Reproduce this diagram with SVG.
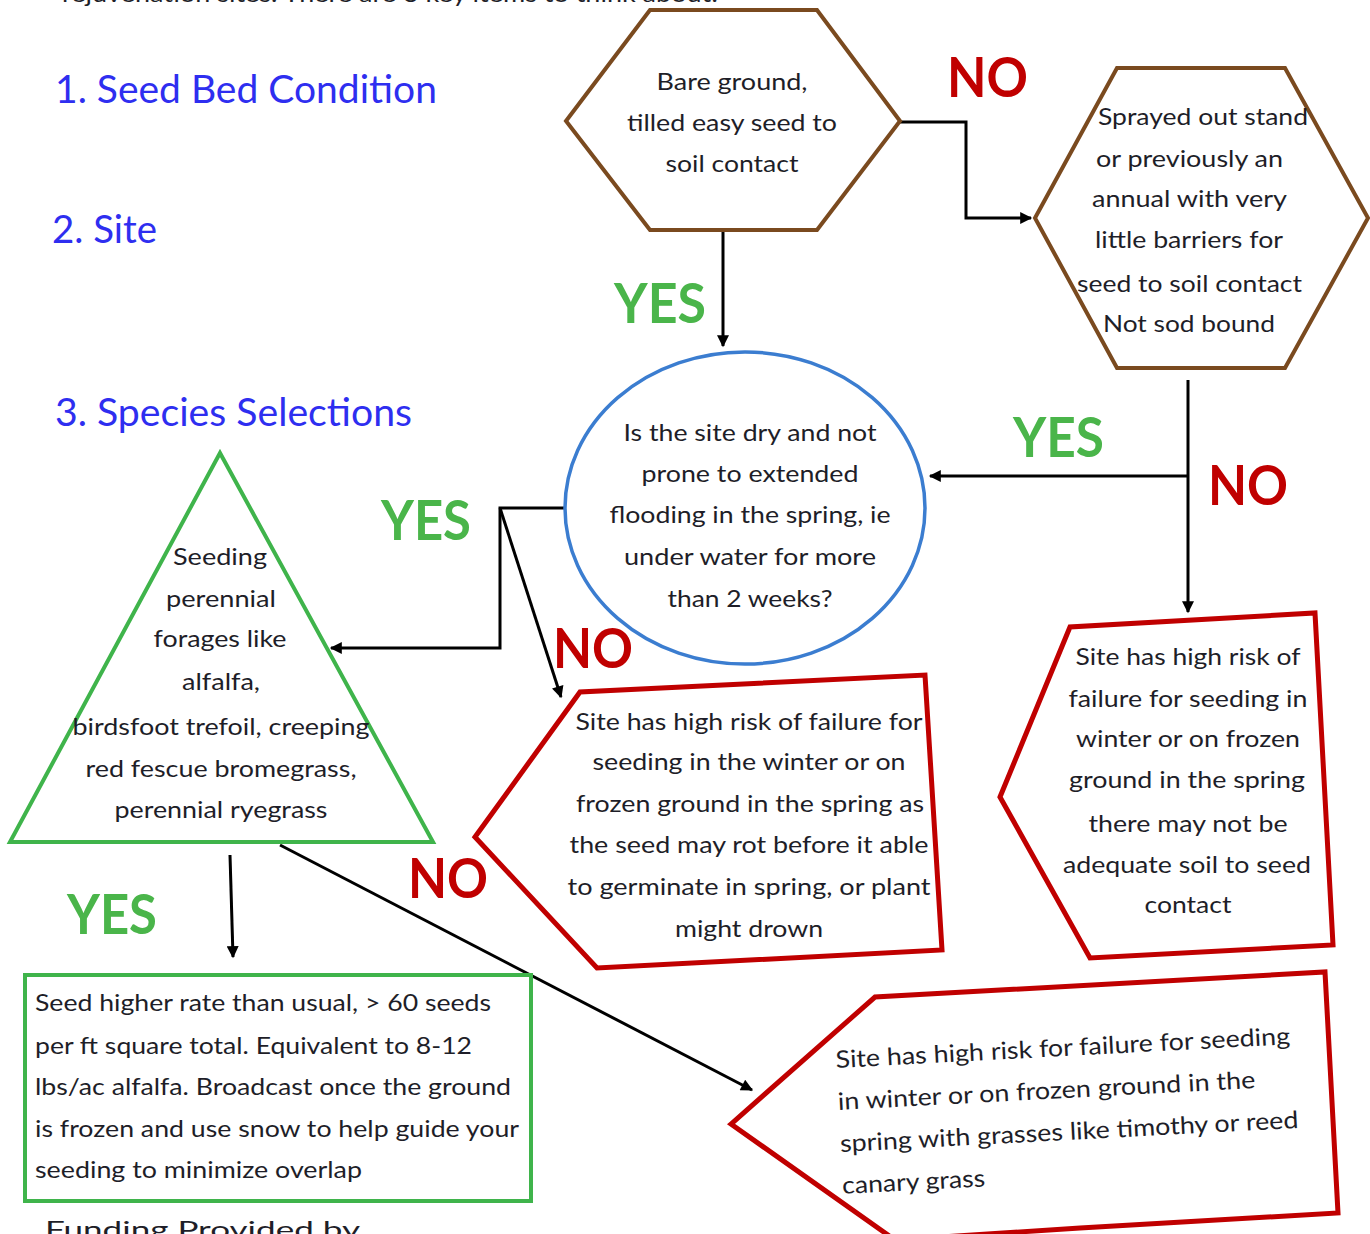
<svg xmlns="http://www.w3.org/2000/svg" width="1370" height="1234" viewBox="0 0 1370 1234">
<defs>
<style>
.t{font-family:Lato,"Open Sans","Liberation Sans",sans-serif;font-size:24px;fill:#1e1e28;}
.c{text-anchor:middle;}
.h{font-family:Lato,"Open Sans","Liberation Sans",sans-serif;font-size:38px;fill:#2e2ef0;}
.yes{font-family:Lato,"Open Sans","Liberation Sans",sans-serif;font-size:56px;font-weight:bold;fill:#4ab54a;}
.no{font-family:Lato,"Open Sans","Liberation Sans",sans-serif;font-size:56px;font-weight:bold;fill:#c00000;}
.hex{fill:#fff;stroke:#7a4a1f;stroke-width:4;}
.red{fill:#fff;stroke:#c00000;stroke-width:5;}
.grn{fill:#fff;stroke:#3fb44b;stroke-width:4;}
.blu{fill:#fff;stroke:#3b7dd0;stroke-width:3.5;}
.ln{fill:none;stroke:#000;stroke-width:3;}
</style>
<marker id="ah" viewBox="0 0 10 10" refX="9" refY="5" markerWidth="14" markerHeight="12" markerUnits="userSpaceOnUse" orient="auto">
<path d="M0,0 L10,5 L0,10 z" fill="#000"/>
</marker>
</defs>
<rect width="1370" height="1234" fill="#fff"/>

<text class="t" x="62" y="2" textLength="656" lengthAdjust="spacingAndGlyphs">rejuvenation sites. There are 3 key items to think about:</text>
<text class="t" x="45" y="1238" font-size="28" textLength="315" lengthAdjust="spacingAndGlyphs">Funding Provided by</text>

<g id="headings">
<text class="h" x="55" y="103" textLength="382" lengthAdjust="spacingAndGlyphs">1. Seed Bed Condition</text>
<text class="h" x="52" y="243" textLength="105" lengthAdjust="spacingAndGlyphs">2. Site</text>
<text class="h" x="55" y="426" textLength="357" lengthAdjust="spacingAndGlyphs">3. Species Selections</text>
</g>

<g id="connectors">
<polyline class="ln" points="900,122 966,122 966,218 1031,218" marker-end="url(#ah)"/>
<line class="ln" x1="723" y1="231" x2="723" y2="346" marker-end="url(#ah)"/>
<line class="ln" x1="1188" y1="380" x2="1188" y2="612" marker-end="url(#ah)"/>
<line class="ln" x1="1188" y1="476" x2="930" y2="476" marker-end="url(#ah)"/>
<polyline class="ln" points="566,508 500,508 500,648 331,648" marker-end="url(#ah)"/>
<line class="ln" x1="500" y1="508" x2="561" y2="697" marker-end="url(#ah)"/>
<line class="ln" x1="230" y1="855" x2="233" y2="957" marker-end="url(#ah)"/>
<line class="ln" x1="280" y1="845" x2="752" y2="1090" marker-end="url(#ah)"/>
</g>

<g id="labels">
<text class="no" x="947" y="97" textLength="81" lengthAdjust="spacingAndGlyphs">NO</text>
<text class="yes" x="614" y="323" textLength="92" lengthAdjust="spacingAndGlyphs">YES</text>
<text class="yes" x="1013" y="457" textLength="91" lengthAdjust="spacingAndGlyphs">YES</text>
<text class="no" x="1208" y="505" textLength="80" lengthAdjust="spacingAndGlyphs">NO</text>
<text class="yes" x="381" y="540" textLength="90" lengthAdjust="spacingAndGlyphs">YES</text>
<text class="no" x="553" y="668" textLength="80" lengthAdjust="spacingAndGlyphs">NO</text>
<text class="no" x="408" y="898" textLength="80" lengthAdjust="spacingAndGlyphs">NO</text>
<text class="yes" x="67" y="934" textLength="90" lengthAdjust="spacingAndGlyphs">YES</text>
</g>

<g id="bare-ground">
<polygon class="hex" points="566,121 650,10 817,10 900,121 817,230 650,230"/>
<text class="t c" x="732" y="90" textLength="151" lengthAdjust="spacingAndGlyphs">Bare ground,</text>
<text class="t c" x="732" y="131" textLength="210" lengthAdjust="spacingAndGlyphs">tilled easy seed to</text>
<text class="t c" x="732" y="172" textLength="133" lengthAdjust="spacingAndGlyphs">soil contact</text>
</g>

<g id="sprayed-out">
<polygon class="hex" points="1035,218 1117,68 1285,68 1368,218 1285,368 1117,368"/>
<text class="t" x="1098" y="125" textLength="210" lengthAdjust="spacingAndGlyphs">Sprayed out stand</text>
<text class="t" x="1096" y="167" textLength="187" lengthAdjust="spacingAndGlyphs">or previously an</text>
<text class="t" x="1092" y="207" textLength="195" lengthAdjust="spacingAndGlyphs">annual with very</text>
<text class="t" x="1095" y="248" textLength="188" lengthAdjust="spacingAndGlyphs">little barriers for</text>
<text class="t" x="1077" y="292" textLength="225" lengthAdjust="spacingAndGlyphs">seed to soil contact</text>
<text class="t" x="1103" y="332" textLength="172" lengthAdjust="spacingAndGlyphs">Not sod bound</text>
</g>

<g id="dry-site">
<ellipse class="blu" cx="745" cy="508" rx="180" ry="156"/>
<text class="t c" x="750" y="441" textLength="253" lengthAdjust="spacingAndGlyphs">Is the site dry and not</text>
<text class="t c" x="750" y="482" textLength="217" lengthAdjust="spacingAndGlyphs">prone to extended</text>
<text class="t c" x="750" y="523" textLength="281" lengthAdjust="spacingAndGlyphs">flooding in the spring, ie</text>
<text class="t c" x="750" y="565" textLength="252" lengthAdjust="spacingAndGlyphs">under water for more</text>
<text class="t c" x="750" y="607" textLength="165" lengthAdjust="spacingAndGlyphs">than 2 weeks?</text>
</g>

<g id="perennial">
<polygon class="grn" points="220,453 10,842 433,842"/>
<text class="t c" x="220" y="565" textLength="94" lengthAdjust="spacingAndGlyphs">Seeding</text>
<text class="t c" x="221" y="607" textLength="110" lengthAdjust="spacingAndGlyphs">perennial</text>
<text class="t c" x="220" y="647" textLength="133" lengthAdjust="spacingAndGlyphs">forages like</text>
<text class="t c" x="221" y="690" textLength="78" lengthAdjust="spacingAndGlyphs">alfalfa,</text>
<text class="t c" x="221" y="735" textLength="297" lengthAdjust="spacingAndGlyphs">birdsfoot trefoil, creeping</text>
<text class="t c" x="221" y="777" textLength="271" lengthAdjust="spacingAndGlyphs">red fescue bromegrass,</text>
<text class="t c" x="221" y="818" textLength="213" lengthAdjust="spacingAndGlyphs">perennial ryegrass</text>
</g>

<g id="flood-risk">
<polygon class="red" points="475,837 580,692 925,675 942,950 597,968"/>
<text class="t c" x="749" y="730" textLength="347" lengthAdjust="spacingAndGlyphs">Site has high risk of failure for</text>
<text class="t c" x="749" y="770" textLength="313" lengthAdjust="spacingAndGlyphs">seeding in the winter or on</text>
<text class="t c" x="750" y="812" textLength="348" lengthAdjust="spacingAndGlyphs">frozen ground in the spring as</text>
<text class="t c" x="749" y="853" textLength="359" lengthAdjust="spacingAndGlyphs">the seed may rot before it able</text>
<text class="t c" x="749" y="895" textLength="363" lengthAdjust="spacingAndGlyphs">to germinate in spring, or plant</text>
<text class="t c" x="749" y="937" textLength="148" lengthAdjust="spacingAndGlyphs">might drown</text>
</g>

<g id="soil-risk">
<polygon class="red" points="1000,797 1070,627 1315,613 1333,945 1090,958"/>
<text class="t c" x="1188" y="665" textLength="225" lengthAdjust="spacingAndGlyphs">Site has high risk of</text>
<text class="t c" x="1188" y="707" textLength="239" lengthAdjust="spacingAndGlyphs">failure for seeding in</text>
<text class="t c" x="1188" y="747" textLength="224" lengthAdjust="spacingAndGlyphs">winter or on frozen</text>
<text class="t c" x="1187" y="788" textLength="236" lengthAdjust="spacingAndGlyphs">ground in the spring</text>
<text class="t c" x="1188" y="832" textLength="199" lengthAdjust="spacingAndGlyphs">there may not be</text>
<text class="t c" x="1187" y="873" textLength="248" lengthAdjust="spacingAndGlyphs">adequate soil to seed</text>
<text class="t c" x="1188" y="913" textLength="87" lengthAdjust="spacingAndGlyphs">contact</text>
</g>

<g id="seed-higher">
<rect class="grn" x="25" y="975" width="506" height="226"/>
<text class="t" x="35" y="1011" textLength="456" lengthAdjust="spacingAndGlyphs">Seed higher rate than usual, &gt; 60 seeds</text>
<text class="t" x="35" y="1054" textLength="437" lengthAdjust="spacingAndGlyphs">per ft square total. Equivalent to 8-12</text>
<text class="t" x="35" y="1095" textLength="476" lengthAdjust="spacingAndGlyphs">lbs/ac alfalfa. Broadcast once the ground</text>
<text class="t" x="35" y="1137" textLength="484" lengthAdjust="spacingAndGlyphs">is frozen and use snow to help guide your</text>
<text class="t" x="35" y="1178" textLength="327" lengthAdjust="spacingAndGlyphs">seeding to minimize overlap</text>
</g>

<g id="grass-risk">
<polygon class="red" points="731,1124 875,997 1325,972 1338,1213 1080,1228 895,1240"/>
<g transform="rotate(-3 836 1068)">
<text class="t" x="836" y="1068" textLength="455" lengthAdjust="spacingAndGlyphs">Site has high risk for failure for seeding</text>
<text class="t" x="836" y="1110" textLength="418" lengthAdjust="spacingAndGlyphs">in winter or on frozen ground in the</text>
<text class="t" x="836" y="1152" textLength="459" lengthAdjust="spacingAndGlyphs">spring with grasses like timothy or reed</text>
<text class="t" x="836" y="1194" textLength="143" lengthAdjust="spacingAndGlyphs">canary grass</text>
</g>
</g>
</svg>
